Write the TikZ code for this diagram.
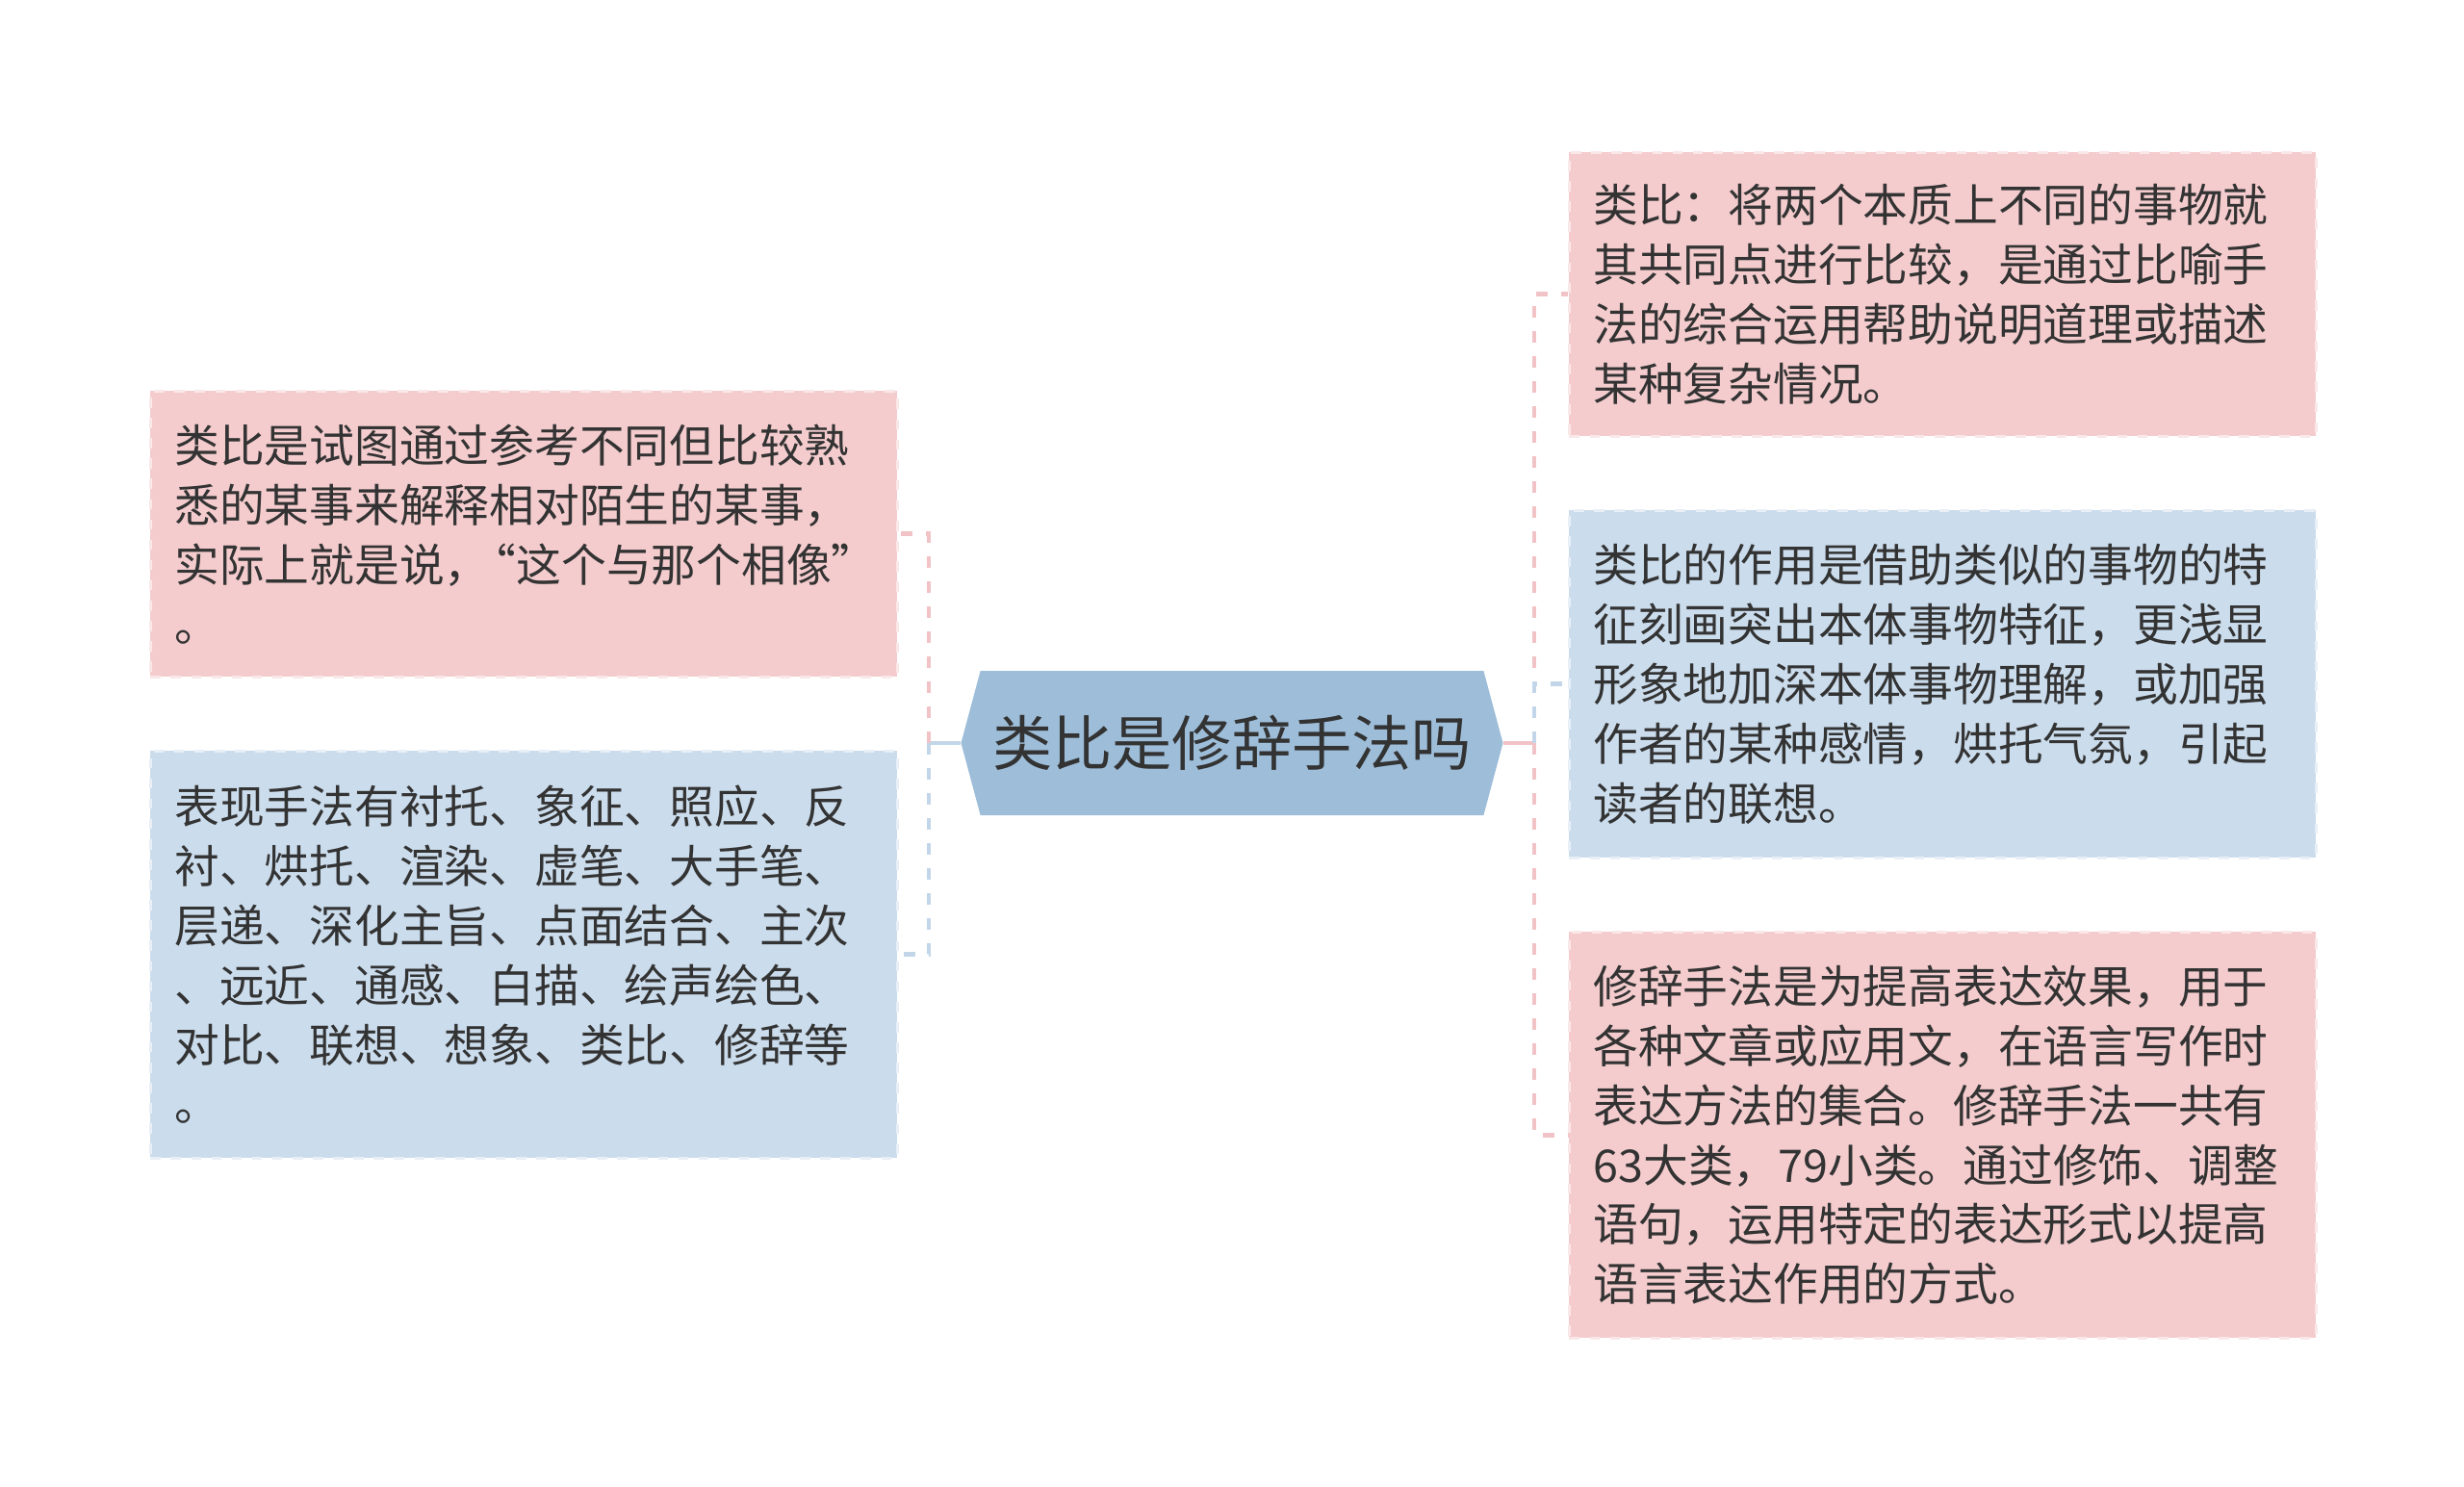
\documentclass[tikz,border=0pt]{standalone}
\usepackage{fontspec}
\setmainfont{Noto Sans CJK SC}
\usetikzlibrary{shapes.symbols}

\definecolor{pinkfill}{HTML}{F4CCCE}
\definecolor{bluefill}{HTML}{CBDCEC}
\definecolor{rootfill}{HTML}{9DBDD9}
\definecolor{pinkline}{HTML}{F2C3C6}
\definecolor{blueline}{HTML}{C3D6E9}
\definecolor{inkgray}{HTML}{333333}

\tikzset{
	leafbox/.style={rectangle, anchor=north west, text width=7.26cm, inner xsep=0.25cm, inner ysep=0cm,
		align=left, text=inkgray, dashed, line width=0.8pt,
		font=\fontsize{13.3pt}{17.6pt}\selectfont},
	pinkbox/.style={leafbox, fill=pinkfill, draw=pinkfill!45!white},
	bluebox/.style={leafbox, fill=bluefill, draw=bluefill!45!white},
	spine/.style={line width=1.4pt, dash pattern=on 3.4pt off 4pt},
}

\begin{document}
\begin{tikzpicture}

	\useasboundingbox (0,0) rectangle (25.6,-15.45);

	\node [signal, signal to=east and west, signal pointer angle=150, fill=rootfill, text=inkgray,
		minimum width=5.63cm, minimum height=1.50cm, inner sep=0pt,
		font=\fontsize{17.7pt}{20pt}\selectfont] (root) at (12.80,-7.72) {类比是修辞手法吗};

	\coordinate (lspine) at (9.65,-7.72);
	\coordinate (rspine) at (15.94,-7.72);

	% left side
	\node [pinkbox, minimum height=2.97cm] (lp) at (1.55,-4.05)
		{类比是试图通过参考不同但比较熟\\悉的某事来解释相对陌生的某事，\\实际上就是说，\kern-0.4em“这个与那个相像”\\。};
	\node [bluebox, minimum height=4.23cm] (lb) at (1.55,-7.79)
		{表现手法有衬托、象征、照应、反\\衬、烘托、渲染、虚笔、大手笔、\\层递、深化主旨、点面结合、主次\\、远近、通感、白描、绘声绘色、\\对比、联想、想象、类比、修辞等\\。};

	% right side
	\node [pinkbox, minimum height=2.95cm] (rt) at (16.29,-1.57)
		{类比：将两个本质上不同的事物就\\其共同点进行比较，是通过比喻手\\法的综合运用帮助说明道理或描述\\某种复杂情况。};
	\node [bluebox, minimum height=3.61cm] (rb) at (16.29,-5.29)
		{类比的作用是借助类似的事物的特\\征刻画突出本体事物特征，更浅显\\形象地加深本体事物理解，或加强\\作者的某种感情，烘托气氛，引起\\读者的联想。};
	\node [pinkbox, minimum height=4.22cm] (rp) at (16.29,-9.67)
		{修辞手法是为提高表达效果，用于\\各种文章或应用文，在语言写作时\\表达方法的集合。修辞手法一共有\\63大类，79小类。通过修饰、调整\\语句，运用特定的表达形式以提高\\语言表达作用的方式。};

	\draw [blueline, line width=1.4pt] (root.west) -- (lspine);
	\draw [pinkline, spine] (lspine) |- (lp.east);
	\draw [blueline, spine] (lspine) |- (lb.east);

	\draw [pinkline, line width=1.4pt] (root.east) -- (rspine);
	\draw [pinkline, spine] (rspine) |- (rt.west);
	\draw [pinkline, spine] (rspine) |- (rp.west);
	\draw [blueline, spine] (rspine) |- (rb.west);

\end{tikzpicture}
\end{document}
